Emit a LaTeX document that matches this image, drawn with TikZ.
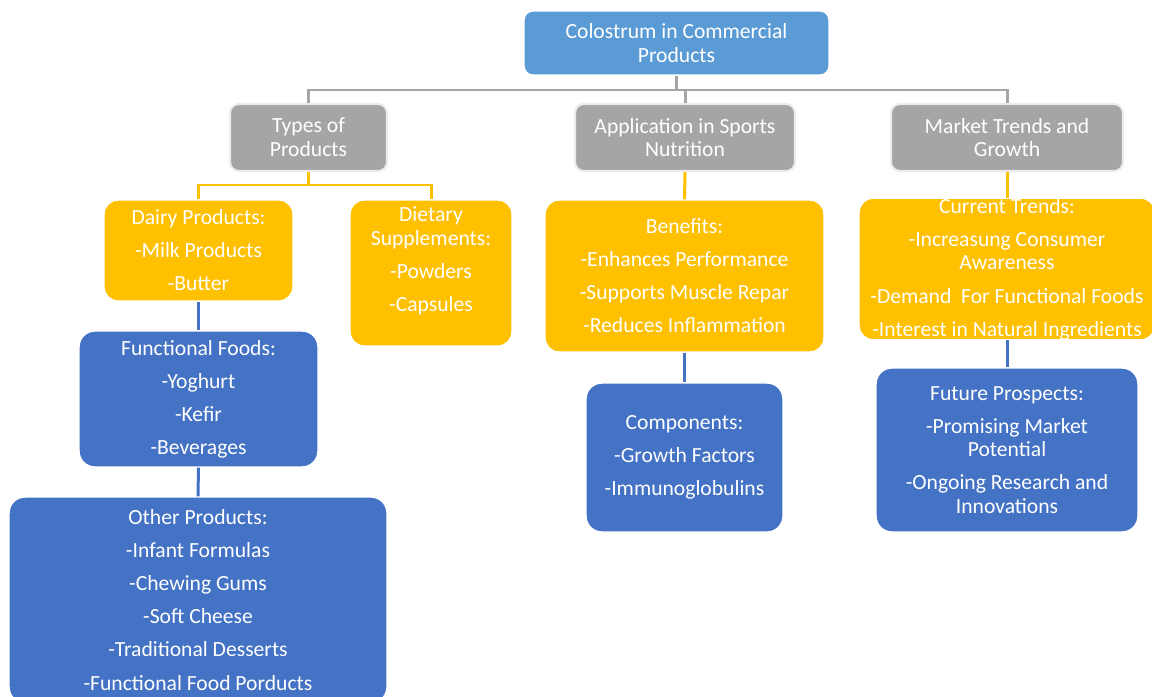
\documentclass[tikz,border=0pt]{standalone}
\usepackage{fontspec}
\setmainfont{Carlito}
\usepackage{xcolor}
\usepackage{tikz}
\usetikzlibrary{positioning}

\definecolor{rootblue}{HTML}{5B9BD5}
\definecolor{boxblue}{HTML}{4472C4}
\definecolor{boxgray}{HTML}{A5A5A5}
\definecolor{boxyellow}{HTML}{FFC000}

% gap between the list items inside a box
\newcommand{\itemgap}{\\[5.3pt]}

\begin{document}
\begin{tikzpicture}[
  x=0.02cm, y=-0.02cm,
  font=\fontsize{12.3}{13.5}\selectfont,
  box/.style={rectangle, rounded corners=5pt, draw=white, line width=0.8pt,
    text=white, align=center, inner sep=0pt},
  rootbox/.style={box, fill=rootblue, minimum width=6.1cm, minimum height=1.28cm},
  graybox/.style={box, fill=boxgray, draw=gray!15, line width=1.2pt, minimum height=1.34cm},
  ybox/.style={box, fill=boxyellow, rounded corners=8pt},
  bbox/.style={box, fill=boxblue, rounded corners=9pt},
  grayline/.style={draw=boxgray, line width=1.7pt},
  yline/.style={draw=boxyellow, line width=1.7pt},
  bline/.style={draw=boxblue, line width=1.7pt}
]
\useasboundingbox (0,0) rectangle (1152,696);

\node[rootbox] (root) at (676.5,43) {Colostrum in Commercial\\Products};

\node[graybox, minimum width=3.14cm] (types) at (308.5,137.5) {Types of\\Products};
\node[graybox, minimum width=4.4cm] (app) at (685,137.5) {Application in Sports\\Nutrition};
\node[graybox, minimum width=4.64cm] (market) at (1007,137.5) {Market Trends and\\Growth};

\node[ybox, minimum width=3.78cm, minimum height=2.02cm] (dairy) at (198.5,250.5)
  {Dairy Products:\itemgap -Milk Products\itemgap -Butter};
\node[ybox, minimum width=3.24cm, minimum height=2.92cm] (dietary) at (431,273)
  {Dietary\\Supplements:\itemgap -Powders\itemgap -Capsules\\[2.6pt]\mbox{}};
\node[ybox, minimum width=5.58cm, minimum height=3.04cm] (benefits) at (684.5,276)
  {Benefits:\itemgap -Enhances Performance\itemgap -Supports Muscle Repar\itemgap -Reduces Inflammation};
\node[ybox, minimum width=5.92cm, minimum height=2.76cm] (trends) at (1007,269)
  {Current Trends:\itemgap -Increasung Consumer\\Awareness\itemgap -Demand\ \ For Functional Foods\itemgap -Interest in Natural Ingredients};

\node[bbox, minimum width=4.78cm, minimum height=2.72cm] (functional) at (198.5,399)
  {Functional Foods:\itemgap -Yoghurt\itemgap -Kefir\itemgap -Beverages};
\node[bbox, minimum width=7.56cm, minimum height=4.12cm] (other) at (198,600)
  {Other Products:\itemgap -Infant Formulas\itemgap -Chewing Gums\itemgap -Soft Cheese\itemgap -Traditional Desserts\itemgap -Functional Food Porducts};
\node[bbox, minimum width=3.94cm, minimum height=2.98cm] (components) at (684.5,457.5)
  {Components:\itemgap -Growth Factors\itemgap -Immunoglobulins};
\node[bbox, minimum width=5.24cm, minimum height=3.28cm] (future) at (1007,450)
  {Future Prospects:\itemgap -Promising Market\\Potential\itemgap -Ongoing Research and\\Innovations};

% elbow connectors
\coordinate (bus) at (0,90);
\coordinate (ybus) at (0,185);
\draw[grayline] (root.south) -- (root.south |- bus) -| (types.north);
\draw[grayline] (root.south |- bus) -| (market.north);
\draw[grayline] (root.south |- bus) -| (app.north);

\draw[yline] (types.south) -- (types.south |- ybus) -| (dairy.north);
\draw[yline] (types.south |- ybus) -| (dietary.north);
\draw[yline] (app.south) -- (benefits.north);
\draw[yline] (market.south) -- (trends.north);

\draw[bline] (dairy.south) -- (functional.north);
\draw[bline] (functional.south) -- (other.north);
\draw[bline] (benefits.south) -- (components.north);
\draw[bline] (trends.south) -- (future.north);

\end{tikzpicture}
\end{document}
